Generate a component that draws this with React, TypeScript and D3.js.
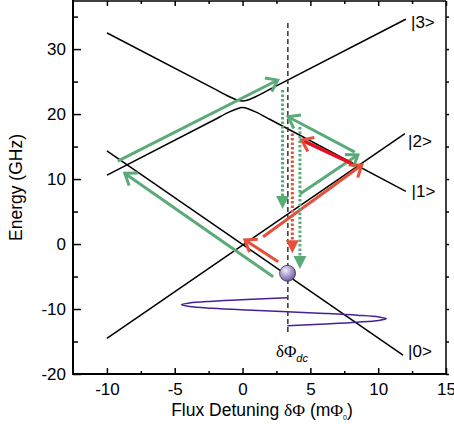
import React, { useEffect, useRef } from 'react';
import * as d3 from 'd3';

// axis ticks
const xTicks = [-10, -5, 0, 5, 10, 15];
const xMinorTicks = [-7.5, -2.5, 2.5, 7.5, 12.5];
const yTicks = [-20, -10, 0, 10, 20, 30];
const yMinorTicks = [-15, -5, 5, 15, 25, 35];

// energy levels (flux detuning, GHz)
const upperBranch: [number, number][] = [
  [-10, 32.5], [-2, 23.8], [-1, 22.7], [-0.5, 22.25], [0, 22.0],
  [0.5, 22.25], [1, 22.7], [2, 23.8], [12.04, 34.6],
];
const lowerBranch: [number, number][] = [
  [-10, 10.6], [-2, 19.2], [-1, 20.3], [-0.5, 20.75], [0, 21.0],
  [0.5, 20.75], [1, 20.3], [2, 19.2], [12.04, 8.1],
];
const level0: [number, number][] = [[-10, 14.35], [11.83, -17.08]];
const level2: [number, number][] = [[-10, -14.5], [11.97, 17.0]];

const stateLabels = [
  { text: '|3>', x: 12.42, y: 33.2 },
  { text: '|2>', x: 12.2, y: 14.9 },
  { text: '|1>', x: 12.46, y: 7.2 },
  { text: '|0>', x: 12.2, y: -17.4 },
];

// dc flux bias
const dcFlux = 3.34;
const dcRange = [34.0, -14.0];
const qubitState = [3.32, -4.5];

// ac flux drive (flux, time drawn downwards)
const driveFlux = [3.3, 0.31, -2.22, -3.91, -4.5, -3.91, -2.22, 0.31, 3.3, 6.1, 8.46, 10.05, 10.6, 10.05, 8.46, 6.1, 3.3];
const driveTime = [-8.26, -8.53, -8.8, -9.07, -9.34, -9.61, -9.88, -10.15, -10.42, -10.68, -10.95, -11.22, -11.49, -11.76, -12.03, -12.3, -12.57];

// transitions [x1, y1, x2, y2]
const greenArrows = [
  [-9.2, 12.77, 2.59, 25.23],
  [2.26, -5.03, -8.68, 10.88],
  [4.23, 7.69, 8.5, 13.7],
  [8.28, 14.15, 3.36, 19.58],
];
const redArrows = [
  [2.63, -2.72, 0.17, 0.62],
  [1.52, 1.12, 8.79, 12.15],
];
const brightRedArrows = [[8.04, 12.42, 4.35, 16.0]];
const relaxGreen = [
  [2.95, 23.7, 2.95, 5.38],
  [4.23, 18.0, 4.23, -3.85],
];
const relaxRed = [[3.67, 17.0, 3.67, -1.43]];

const GREEN = '#5aab79';
const RED = '#e5503b';
const BRIGHT = '#e8101e';
const FONT = '"Liberation Sans", Arial, sans-serif';
const SERIF = '"Liberation Serif", "Times New Roman", serif';

export default function App() {
  const width = 454;
  const height = 437;
  const left = 73, right = 446, top = 1, bottom = 374;
  const svgRef = useRef<SVGSVGElement>(null);

  const x = d3.scaleLinear().domain([-12.5, 15]).range([left, right]);
  const y = d3.scaleLinear().domain([-20, 37.4]).range([bottom, top]);

  useEffect(() => {
    const svg = d3.select(svgRef.current);
    const fmt = (d: any) => String(d);
    const none = () => '';

    const style = (g: any) => {
      g.select('.domain').remove();
      g.selectAll('line').attr('stroke', '#000').attr('stroke-width', 1.5);
      g.attr('font-size', 17).attr('font-family', FONT);
      g.selectAll('text').attr('fill', '#000');
    };

    svg.select<SVGGElement>('.x-axis').attr('transform', `translate(0,${bottom})`)
      .call(d3.axisBottom(x).tickValues(xTicks).tickSize(-6).tickPadding(9).tickFormat(fmt)).call(style);
    svg.select<SVGGElement>('.x-minor').attr('transform', `translate(0,${bottom})`)
      .call(d3.axisBottom(x).tickValues(xMinorTicks).tickSize(-3).tickFormat(none)).call(style);
    svg.select<SVGGElement>('.x-top').attr('transform', `translate(0,${top})`)
      .call(d3.axisTop(x).tickValues(xTicks).tickSize(-5).tickFormat(none)).call(style);
    svg.select<SVGGElement>('.x-top-minor').attr('transform', `translate(0,${top})`)
      .call(d3.axisTop(x).tickValues(xMinorTicks).tickSize(-3).tickFormat(none)).call(style);

    svg.select<SVGGElement>('.y-axis').attr('transform', `translate(${left},0)`)
      .call(d3.axisLeft(y).tickValues(yTicks).tickSize(-8).tickPadding(7).tickFormat(fmt)).call(style);
    svg.select<SVGGElement>('.y-minor').attr('transform', `translate(${left},0)`)
      .call(d3.axisLeft(y).tickValues(yMinorTicks).tickSize(-5).tickFormat(none)).call(style);
    svg.select<SVGGElement>('.y-right').attr('transform', `translate(${right},0)`)
      .call(d3.axisRight(y).tickValues(yTicks).tickSize(3).tickFormat(none)).call(style);
    svg.select<SVGGElement>('.y-right-minor').attr('transform', `translate(${right},0)`)
      .call(d3.axisRight(y).tickValues(yMinorTicks).tickSize(3).tickFormat(none)).call(style);
  }, []);

  const branch = d3.line<[number, number]>()
    .x(d => x(d[0])).y(d => y(d[1]))
    .curve(d3.curveMonotoneX);
  const straight = d3.line<[number, number]>()
    .x(d => x(d[0])).y(d => y(d[1]));
  const drive = d3.line<number>()
    .x(d => x(d)).y((d, i) => y(driveTime[i]))
    .curve(d3.curveCatmullRom);

  // open chevron arrow
  const openArrow = (a: number[], color: string, key: string, w = 3, headColor?: string) => {
    const x1 = x(a[0]), y1 = y(a[1]), x2 = x(a[2]), y2 = y(a[3]);
    const ang = Math.atan2(y2 - y1, x2 - x1);
    const len = 13, spread = Math.PI * 0.2;
    const p1 = [x2 - len * Math.cos(ang - spread), y2 - len * Math.sin(ang - spread)];
    const p2 = [x2 - len * Math.cos(ang + spread), y2 - len * Math.sin(ang + spread)];
    return (
      <g key={key}>
        <line x1={x1} y1={y1} x2={x2 - 1.5 * Math.cos(ang)} y2={y2 - 1.5 * Math.sin(ang)} stroke={color} strokeWidth={w} />
        <polyline points={`${p1[0]},${p1[1]} ${x2},${y2} ${p2[0]},${p2[1]}`} fill="none"
          stroke={headColor || color} strokeWidth={3} strokeLinejoin="miter" />
      </g>
    );
  };

  // dotted arrow with filled triangle head
  const dottedArrow = (a: number[], color: string, key: string) => {
    const xx = x(a[0]), y1 = y(a[1]), y2 = y(a[3]);
    const hl = 13, hw = 6.5;
    return (
      <g key={key}>
        <line x1={xx} y1={y1} x2={xx} y2={y2 - hl + 1} stroke={color} strokeWidth={3} strokeDasharray="2.5 2" />
        <polygon points={`${xx - hw},${y2 - hl} ${xx + hw},${y2 - hl} ${xx},${y2}`} fill={color} />
      </g>
    );
  };

  return (
    <svg ref={svgRef} width={width} height={height}
      style={{ position: 'absolute', left: 0, top: 0, background: '#fff' }}>
      <defs>
        <radialGradient id="ball" cx="0.38" cy="0.32" r="0.7">
          <stop offset="0" stopColor="#f4f0fa" />
          <stop offset="0.45" stopColor="#b4a6d6" />
          <stop offset="1" stopColor="#6a5a9c" />
        </radialGradient>
      </defs>

      {/* energy levels */}
      <path d={branch(upperBranch) || ''} fill="none" stroke="#000" strokeWidth={1.5} />
      <path d={branch(lowerBranch) || ''} fill="none" stroke="#000" strokeWidth={1.5} />
      <path d={straight(level0) || ''} fill="none" stroke="#000" strokeWidth={1.5} />
      <path d={straight(level2) || ''} fill="none" stroke="#000" strokeWidth={1.5} />

      {/* dc bias */}
      <line x1={x(dcFlux)} x2={x(dcFlux)} y1={y(dcRange[0])} y2={y(dcRange[1])}
        stroke="#333" strokeWidth={1.5} strokeDasharray="5 3" />

      {/* ac drive */}
      <path d={drive(driveFlux) || ''} fill="none" stroke="#4a1f96" strokeWidth={1.5} />

      {/* transitions */}
      {greenArrows.map((a, i) => openArrow(a, GREEN, 'g' + i))}
      {redArrows.map((a, i) => openArrow(a, RED, 'r' + i))}
      {brightRedArrows.map((a, i) => openArrow(a, BRIGHT, 'b' + i, 3.5, RED))}
      {relaxGreen.map((a, i) => dottedArrow(a, GREEN, 'dg' + i))}
      {relaxRed.map((a, i) => dottedArrow(a, RED, 'dr' + i))}

      <circle cx={x(qubitState[0])} cy={y(qubitState[1])} r={8} fill="url(#ball)" stroke="#3a3050" strokeWidth={0.8} />

      {/* state labels */}
      {stateLabels.map(s => (
        <text key={s.text} x={x(s.x)} y={y(s.y)} fontSize={17} fontFamily={FONT}>{s.text}</text>
      ))}
      <text x={x(2.46)} y={y(-17.4)} fontSize={17} fontFamily={SERIF}>
        δΦ<tspan fontSize={11} fontStyle="italic" fontFamily={FONT} dy={5}>dc</tspan>
      </text>

      {/* frame */}
      <g fill="none" stroke="#000">
        <line x1={left} x2={right} y1={top} y2={top} strokeWidth={1.5} />
        <line x1={right} x2={right} y1={top} y2={bottom} strokeWidth={1.5} />
        <line x1={left} x2={left} y1={top - 1} y2={bottom + 1} strokeWidth={2} />
        <line x1={left - 1} x2={right} y1={bottom} y2={bottom} strokeWidth={2} />
      </g>

      <g className="x-minor" />
      <g className="x-axis" />
      <g className="x-top" />
      <g className="x-top-minor" />
      <g className="y-minor" />
      <g className="y-axis" />
      <g className="y-right" />
      <g className="y-right-minor" />

      {/* axis titles */}
      <text x={262} y={416} textAnchor="middle" fontSize={17.5} fontFamily={FONT}>
        Flux Detuning <tspan fontFamily={SERIF}>δΦ</tspan> (m<tspan fontFamily={SERIF}>Φ</tspan>
        <tspan fontSize={7} dy={4}>0</tspan><tspan dy={-4}>)</tspan>
      </text>
      <text transform={`translate(21.5,${(top + bottom) / 2}) rotate(-90)`} textAnchor="middle"
        fontSize={17.5} fontFamily={FONT}>Energy (GHz)</text>
    </svg>
  );
}
